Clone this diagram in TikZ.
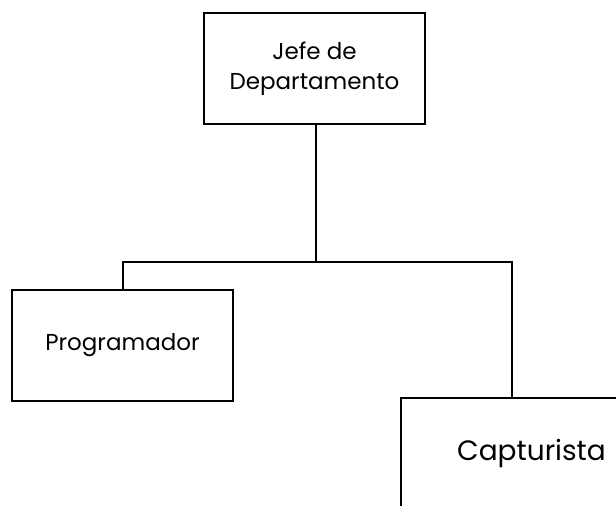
\documentclass[tikz,border=0pt]{standalone}
\usepackage{fontspec}
\setmainfont{Poppins}
\usepackage{tikz}

\begin{document}
\begin{tikzpicture}[x=1bp,y=-1bp,line width=2bp,
  puesto/.style={draw,rectangle,minimum width=221bp,minimum height=111bp,inner sep=0pt,align=center,font=\fontsize{23bp}{30bp}\selectfont}]
\useasboundingbox (0,0) rectangle (616,506);
\clip (0,0) rectangle (616,506);
\node[puesto] (1)at(314.5,69){Jefe de\\Departamento};
\node[puesto] (2)at(122.5,345){Programador};
\node[puesto,font=\fontsize{28bp}{34bp}\selectfont] (3)at(511.5,453){\hspace*{40bp}Capturista};
\coordinate (c)at(316,262);
\draw (1.south -| c) -- (c);
\draw (c) -| (2.north);
\draw (c) -| (3.north);
\end{tikzpicture}
\end{document}
